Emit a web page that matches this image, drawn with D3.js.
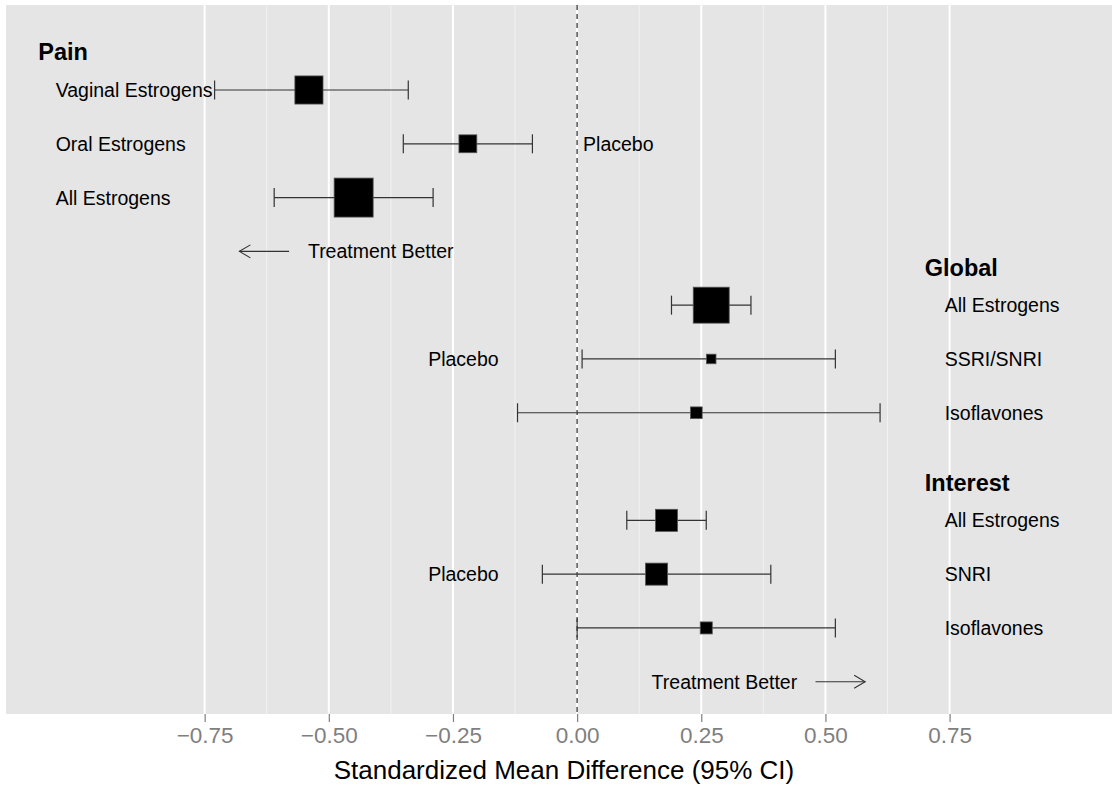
<!DOCTYPE html>
<html>
<head>
<meta charset="utf-8">
<script src="https://cdn.jsdelivr.net/npm/d3@7/dist/d3.min.js"></script>
<style>
  html, body { margin: 0; padding: 0; background: #ffffff; }
  svg { display: block; font-family: "Liberation Sans", Arial, sans-serif; }
</style>
</head>
<body>
<svg id="chart" width="1112" height="785"></svg>
<script>
// Outcome groups and the comparisons within each
const groupNames = ["Pain", "Global", "Interest"];
const rowGroup   = [0, 0, 0, 1, 1, 1, 2, 2, 2];
const rowLabels  = ["Vaginal Estrogens", "Oral Estrogens", "All Estrogens",
                    "All Estrogens", "SSRI/SNRI", "Isoflavones",
                    "All Estrogens", "SNRI", "Isoflavones"];
// Standardized mean difference with 95% CI
const estimates  = [-0.54, -0.22, -0.45, 0.27, 0.27, 0.24, 0.18, 0.16, 0.26];
const lowerCI    = [-0.73, -0.35, -0.61, 0.19, 0.01, -0.12, 0.10, -0.07, 0.00];
const upperCI    = [-0.34, -0.09, -0.29, 0.35, 0.52, 0.61, 0.26, 0.39, 0.52];
// Relative weight of each pooled estimate (square area)
const weights    = [52, 21, 100, 85, 6, 9, 32, 32, 9.5];
// Axis ticks
const tickValues = [-0.75, -0.5, -0.25, 0, 0.25, 0.5, 0.75];
const tickLabels = ["\u22120.75", "\u22120.50", "\u22120.25", "0.00", "0.25", "0.50", "0.75"];

const svg = d3.select("#chart");
const panel = { left: 6, right: 1112, top: 5, bottom: 714 };

const x = d3.scaleLinear().domain([-1.15, 1.077]).range([panel.left, panel.right]);
// each group takes four slots: a heading slot followed by its three rows
const slotOf = i => rowGroup[i] * 4 + (i - rowGroup.indexOf(rowGroup[i]));
const y = d3.scaleLinear().domain([-1.58, 11.6]).range([panel.top, panel.bottom]);
const size = d3.scaleSqrt().domain([0, 100]).range([0, 39]);

// panel background
svg.append("rect")
  .attr("x", panel.left).attr("y", panel.top)
  .attr("width", panel.right - panel.left).attr("height", panel.bottom - panel.top)
  .attr("fill", "#E5E5E5");

// minor grid
const minor = d3.range(tickValues.length - 1).map(i => (tickValues[i] + tickValues[i + 1]) / 2);
svg.append("g").selectAll("line").data(minor).join("line")
  .attr("x1", d => x(d)).attr("x2", d => x(d))
  .attr("y1", panel.top).attr("y2", panel.bottom)
  .attr("stroke", "#F2F2F2").attr("stroke-width", 1);

// major grid
svg.append("g").selectAll("line").data(tickValues).join("line")
  .attr("x1", d => x(d)).attr("x2", d => x(d))
  .attr("y1", panel.top).attr("y2", panel.bottom)
  .attr("stroke", "#FFFFFF").attr("stroke-width", 2);

// reference line at no difference
svg.append("line")
  .attr("x1", x(0)).attr("x2", x(0))
  .attr("y1", panel.top).attr("y2", panel.bottom)
  .attr("stroke", "#5E5E5E").attr("stroke-width", 1.6)
  .attr("stroke-dasharray", "5,4");

// x axis
const axis = d3.axisBottom(x).tickValues(tickValues)
  .tickFormat((d, i) => tickLabels[i]).tickSize(8).tickPadding(5);
const gx = svg.append("g").attr("transform", `translate(0,${panel.bottom})`).call(axis);
gx.select(".domain").remove();
gx.selectAll(".tick line").attr("stroke", "#7F7F7F").attr("stroke-width", 1.2);
gx.selectAll(".tick text")
  .attr("fill", "#7F7F7F")
  .style("font-size", "22.5px")
  .style("font-family", "'Liberation Sans', Arial, sans-serif");

svg.append("text")
  .attr("x", (panel.left + panel.right) / 2 + 5).attr("y", 770)
  .attr("text-anchor", "middle").attr("dominant-baseline", "central")
  .style("font-size", "26px").attr("fill", "#000")
  .text("Standardized Mean Difference (95% CI)");

// confidence intervals
const rows = d3.range(rowLabels.length);
const cap = 9.5;
const ci = svg.append("g").attr("stroke", "#333333").attr("stroke-width", 1.2);
ci.selectAll("line.bar").data(rows).join("line").attr("class", "bar")
  .attr("x1", i => x(lowerCI[i])).attr("x2", i => x(upperCI[i]))
  .attr("y1", i => y(slotOf(i))).attr("y2", i => y(slotOf(i)));
ci.selectAll("line.lo").data(rows).join("line").attr("class", "lo")
  .attr("x1", i => x(lowerCI[i])).attr("x2", i => x(lowerCI[i]))
  .attr("y1", i => y(slotOf(i)) - cap).attr("y2", i => y(slotOf(i)) + cap);
ci.selectAll("line.hi").data(rows).join("line").attr("class", "hi")
  .attr("x1", i => x(upperCI[i])).attr("x2", i => x(upperCI[i]))
  .attr("y1", i => y(slotOf(i)) - cap).attr("y2", i => y(slotOf(i)) + cap);

// point estimates
svg.append("g").selectAll("rect").data(rows).join("rect")
  .attr("x", i => x(estimates[i]) - size(weights[i]) / 2)
  .attr("y", i => y(slotOf(i)) - size(weights[i]) / 2)
  .attr("width", i => size(weights[i]))
  .attr("height", i => size(weights[i]))
  .attr("fill", "#000").attr("stroke", "#555").attr("stroke-width", 0.8);

// row and group labels
const labelX = [-1.05, 0.74, 0.74];
const headX  = [-1.085, 0.70, 0.70];
svg.append("g").selectAll("text").data(rows).join("text")
  .attr("x", i => x(labelX[rowGroup[i]]))
  .attr("y", i => y(slotOf(i)))
  .attr("dominant-baseline", "central")
  .style("font-size", "19.5px").attr("fill", "#000")
  .text(i => rowLabels[i]);
svg.append("g").selectAll("text").data(groupNames).join("text")
  .attr("x", (d, g) => x(headX[g]))
  .attr("y", (d, g) => y(g * 4 - 0.7))
  .attr("dominant-baseline", "central")
  .style("font-size", "23.5px").style("font-weight", "bold").attr("fill", "#000")
  .text(d => d);

// comparator annotations
const placebo = [
  { x: 0.012, slot: 1 },
  { x: -0.30, slot: 5 },
  { x: -0.30, slot: 9 }
];
svg.append("g").selectAll("text").data(placebo).join("text")
  .attr("x", d => x(d.x)).attr("y", d => y(d.slot))
  .attr("dominant-baseline", "central")
  .style("font-size", "19.5px").attr("fill", "#000")
  .text("Placebo");

// direction arrows
const arrows = [
  { from: -0.58, to: -0.68, slot: 3, textX: -0.542 },
  { from: 0.48, to: 0.58, slot: 11, textX: 0.150 }
];
const ag = svg.append("g").attr("stroke", "#333333").attr("stroke-width", 1.1).attr("fill", "none");
arrows.forEach(a => {
  const yy = y(a.slot);
  const x0 = x(a.from), x1 = x(a.to);
  const dir = Math.sign(x1 - x0);
  ag.append("line").attr("x1", x0).attr("x2", x1).attr("y1", yy).attr("y2", yy);
  ag.append("path").attr("d", `M${x1 - dir * 11},${yy - 6.5}L${x1},${yy}L${x1 - dir * 11},${yy + 6.5}`);
  svg.append("text").attr("x", x(a.textX)).attr("y", yy)
    .attr("dominant-baseline", "central")
    .style("font-size", "19.5px").attr("fill", "#000")
    .text("Treatment Better");
});
</script>
</body>
</html>
